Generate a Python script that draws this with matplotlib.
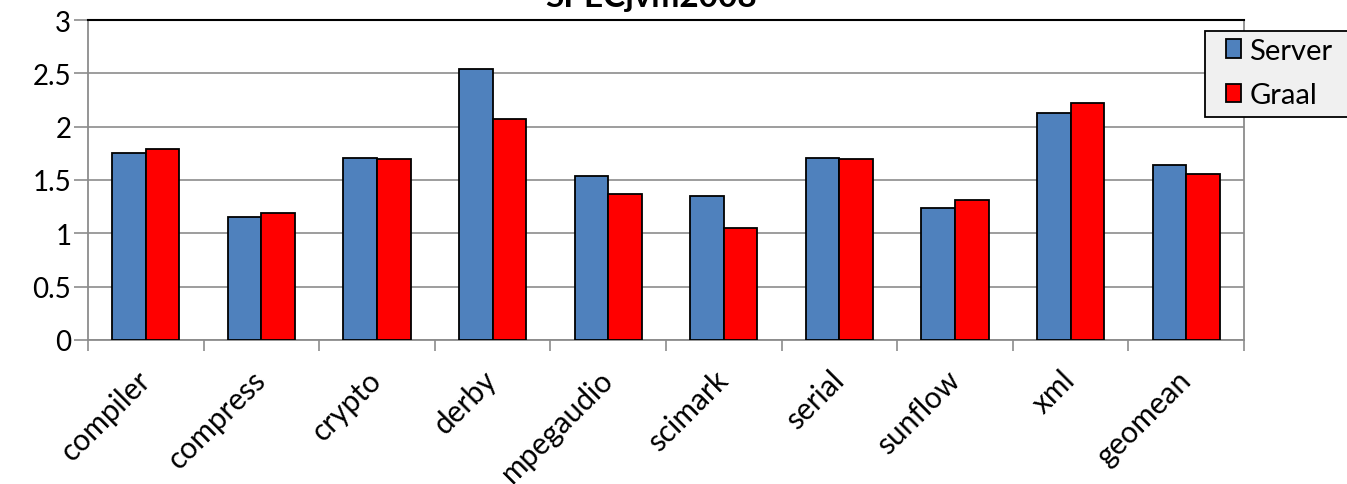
import numpy as np
import matplotlib.pyplot as plt
from matplotlib.patches import Rectangle

# SPECjvm2008 speedups, Server vs Graal
benchmarks = ['compiler', 'compress', 'crypto', 'derby', 'mpegaudio',
              'scimark', 'serial', 'sunflow', 'xml', 'geomean']
server = [1.75, 1.15, 1.71, 2.54, 1.54, 1.35, 1.71, 1.24, 2.13, 1.64]
graal = [1.79, 1.19, 1.70, 2.07, 1.37, 1.05, 1.70, 1.31, 2.22, 1.56]

plt.rcParams['font.family'] = ['Lato', 'DejaVu Sans']

W, H = 1347, 485
fig = plt.figure(figsize=(W / 100, H / 100), dpi=100)
ax = fig.add_axes([88 / W, 1 - 341 / H, (1244 - 88) / W, (341 - 21) / H])

x = np.arange(len(benchmarks))
w = 0.29
ax.bar(x - w / 2, server, w, color='#4f81bd', edgecolor='black', linewidth=1.3,
       label='Server', zorder=3)
ax.bar(x + w / 2, graal, w, color='#ff0000', edgecolor='black', linewidth=1.3,
       label='Graal', zorder=3)

ax.set_xlim(-0.5, len(benchmarks) - 0.5)
ax.set_ylim(0, 3)
ax.set_yticks([0, 0.5, 1, 1.5, 2, 2.5, 3])
ax.set_yticklabels(['0', '0.5', '1', '1.5', '2', '2.5', '3'], fontsize=20)
ax.yaxis.grid(True, color='#8c8c8c', linewidth=1.2, zorder=0)

# category ticks sit between groups
ax.set_xticks(np.arange(len(benchmarks) + 1) - 0.5)
ax.set_xticklabels([])
ax.set_xticks(x, minor=True)
ax.set_xticklabels(benchmarks, minor=True, rotation=45, ha='right', va='center',
                   rotation_mode='anchor', fontsize=21.5)
ax.tick_params(axis='x', which='minor', length=0, pad=25)
ax.tick_params(axis='x', which='major', length=8, width=1.2, color='#8c8c8c')
ax.tick_params(axis='y', length=10, width=1.2, color='#8c8c8c', pad=2)

for side in ['left', 'bottom', 'right']:
    ax.spines[side].set_color('#8c8c8c')
    ax.spines[side].set_linewidth(1.3)
ax.spines['top'].set_color('black')
ax.spines['top'].set_linewidth(1.5)
ax.spines['top'].set_zorder(4)

fig.text(651 / W, 1 - 7 / H, 'SPECjvm2008', ha='center', va='baseline',
         fontsize=24, fontweight='bold')

# legend box runs past the right edge of the figure
box = Rectangle((1205 / W, 1 - 118 / H), 160 / W, 86 / H,
                transform=fig.transFigure, facecolor='#f0f0f0',
                edgecolor='black', linewidth=1.3, zorder=5, clip_on=False)
ax.add_patch(box)
leg = ax.legend(loc='upper left', bbox_to_anchor=(1226 / W, 1 - 39 / H),
                bbox_transform=fig.transFigure, fontsize=21, frameon=False,
                handlelength=0.5, handleheight=0.6, handletextpad=0.3,
                labelspacing=0.62, borderaxespad=0, borderpad=0)
leg.set_zorder(6)

fig.savefig('out.png', dpi=100)
